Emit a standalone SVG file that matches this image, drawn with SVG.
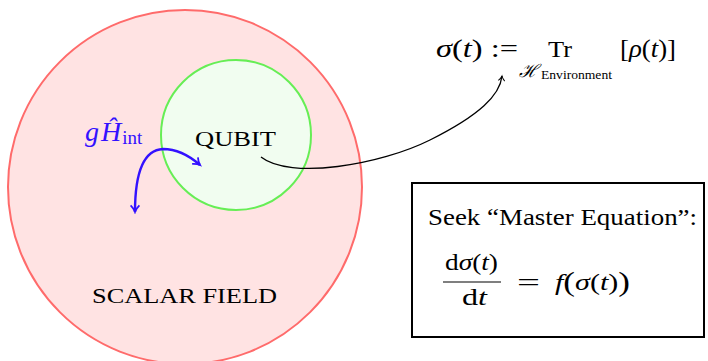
<svg xmlns="http://www.w3.org/2000/svg" width="708" height="361" viewBox="0 0 708 361">
<defs>
<style>
.t{font-family:"Liberation Serif","DejaVu Serif",serif;fill:#000}
.i{font-style:italic}
</style>
<marker id="ak" viewBox="0 0 10 10" refX="8" refY="5" markerWidth="8" markerHeight="8" orient="auto" markerUnits="userSpaceOnUse">
<path d="M2 1 Q5 4 8 5 Q5 6 2 9" fill="none" stroke="#000" stroke-width="1.2"/>
</marker>
<marker id="ab" viewBox="0 0 10 10" refX="8" refY="5" markerWidth="11" markerHeight="11" orient="auto" markerUnits="userSpaceOnUse">
<path d="M2 1 Q5 4 8 5 Q5 6 2 9" fill="none" stroke="#3311ff" stroke-width="1.6"/>
</marker>
<marker id="abs" viewBox="0 0 10 10" refX="2" refY="5" markerWidth="11" markerHeight="11" orient="auto" markerUnits="userSpaceOnUse">
<path d="M8 1 Q5 4 2 5 Q5 6 8 9" fill="none" stroke="#3311ff" stroke-width="1.6"/>
</marker>
</defs>
<rect width="708" height="361" fill="#fff"/>
<g id="field">
<circle cx="185" cy="187" r="177" fill="#ffe3e3" stroke="#ff6b6b" stroke-width="2"/>
<text class="t" x="92" y="303" font-size="22" textLength="185" lengthAdjust="spacingAndGlyphs">SCALAR FIELD</text>
</g>
<g id="qubit">
<circle cx="236" cy="135" r="75" fill="#f1fdf0" stroke="#66ee55" stroke-width="2"/>
<text class="t" x="195" y="146" font-size="22" textLength="81" lengthAdjust="spacingAndGlyphs">QUBIT</text>
</g>
<g id="coupling">
<text class="t" x="85" y="141" font-size="28" style="fill:#3311ff"><tspan class="i">g</tspan><tspan class="i" dx="2">Ĥ</tspan><tspan font-size="19" dy="3" dx="1">int</tspan></text>
</g>
<g id="trace">
<text class="t" x="436" y="57" font-size="25" textLength="82" lengthAdjust="spacingAndGlyphs"><tspan class="i">σ</tspan>(<tspan class="i">t</tspan>) :=</text>
<text class="t" x="548" y="57" font-size="24" textLength="24" lengthAdjust="spacingAndGlyphs">Tr</text>
<text class="t" x="519" y="77" font-size="18"><tspan class="i" font-family="DejaVu Serif">ℋ</tspan></text>
<text class="t" x="541" y="79" font-size="13" textLength="71" lengthAdjust="spacingAndGlyphs">Environment</text>
<text class="t" x="620" y="57" font-size="25" textLength="56" lengthAdjust="spacingAndGlyphs">[<tspan class="i">ρ</tspan>(<tspan class="i">t</tspan>)]</text>
</g>
<g id="master">
<rect x="412" y="183" width="292" height="154" fill="#fff" stroke="#000" stroke-width="2"/>
<text class="t" x="428" y="225" font-size="23" textLength="269" lengthAdjust="spacingAndGlyphs">Seek “Master Equation”:</text>
<text class="t" x="445" y="270" font-size="24" textLength="53" lengthAdjust="spacingAndGlyphs">d<tspan class="i">σ</tspan>(<tspan class="i">t</tspan>)</text>
<line x1="443" y1="282" x2="501" y2="282" stroke="#000" stroke-width="1.2"/>
<text class="t" x="462" y="305" font-size="24" textLength="25" lengthAdjust="spacingAndGlyphs">d<tspan class="i">t</tspan></text>
<text class="t" x="517" y="290" font-size="24" textLength="23" lengthAdjust="spacingAndGlyphs">=</text>
<text class="t" x="555" y="290" font-size="24" textLength="75" lengthAdjust="spacingAndGlyphs"><tspan class="i">f</tspan><tspan font-size="28" dy="1">(</tspan><tspan class="i" dy="-1">σ</tspan>(<tspan class="i">t</tspan>)<tspan font-size="28" dy="1">)</tspan></text>
</g>
<g id="connectors">
<path d="M261 157 C 290 180, 380 165, 430 140 C 480 115, 500 95, 502 76" fill="none" stroke="#000" stroke-width="1.3" marker-end="url(#ak)"/>
<path d="M135 212 C 135 175, 142 150, 163 149 C 180 149, 192 158, 200 165" fill="none" stroke="#3311ff" stroke-width="2.4" marker-end="url(#ab)" marker-start="url(#abs)"/>
</g>
</svg>
